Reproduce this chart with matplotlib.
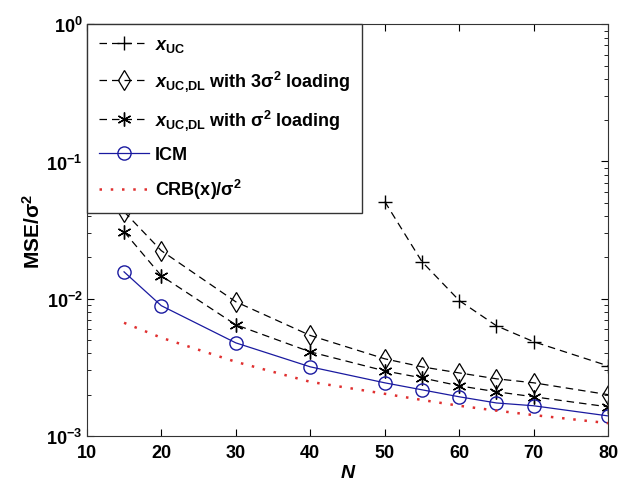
import numpy as np
import matplotlib
matplotlib.use('Agg')
import matplotlib.pyplot as plt

plt.rcParams['font.family'] = ['Liberation Sans', 'DejaVu Sans']
plt.rcParams['font.weight'] = 'bold'
plt.rcParams['mathtext.fontset'] = 'custom'
plt.rcParams['mathtext.rm'] = 'Liberation Sans:bold'
plt.rcParams['mathtext.it'] = 'Liberation Sans:italic:bold'
plt.rcParams['mathtext.bf'] = 'Liberation Sans:bold'
plt.rcParams['mathtext.sf'] = 'Liberation Sans:bold'

# data
N = [15, 20, 30, 40, 50, 55, 60, 65, 70, 80]
N_uc = [50, 55, 60, 65, 70, 80]
mse_uc = [0.051, 0.0186, 0.0097, 0.00635, 0.00486, 0.00324]
mse_dl3 = [0.0431, 0.0224, 0.0095, 0.0054, 0.00365, 0.00319, 0.00288, 0.00261, 0.00244, 0.0020]
mse_dl1 = [0.0308, 0.0147, 0.00646, 0.0041, 0.00298, 0.00265, 0.00232, 0.0021, 0.00193, 0.00163]
mse_icm = [0.0157, 0.0089, 0.00477, 0.00319, 0.00244, 0.00217, 0.00193, 0.00174, 0.00166, 0.0014]
crb = [0.00668, 0.0052, 0.00347, 0.00248, 0.00203, 0.00183, 0.00166, 0.00153, 0.00142, 0.00124]

fig = plt.figure(figsize=(6.2, 4.85), dpi=100)
ax = fig.add_axes([0.140, 0.099, 0.841, 0.849])

dash = (0, (6, 4))
ax.semilogy(N_uc, mse_uc, color='k', ls=dash, lw=0.9, marker='+', ms=10, mew=1,
            label=r'$x_{\mathbf{UC}}$')
ax.semilogy(N, mse_dl3, color='k', ls=dash, lw=0.9, marker='d', ms=10, mew=0.9, mfc='none',
            label=r'$x_{\mathbf{UC{,}DL}}$ with 3$\mathrm{\sigma}^2$ loading')
ax.semilogy(N, mse_dl1, color='k', ls=dash, lw=0.9, marker=(6, 2, 0), ms=10, mew=1,
            label=r'$x_{\mathbf{UC{,}DL}}$ with $\mathrm{\sigma}^2$ loading')
ax.semilogy(N, mse_icm, color='#1a1aa0', ls='-', lw=0.9, marker='o', ms=9.5, mew=1, mfc='none',
            label='ICM')
ax.semilogy(N, crb, color='#e03030', ls=(0, (1, 3.5)), lw=1.8,
            label=r'CRB(x)/$\mathrm{\sigma}^2$')

ax.set_xlim(10, 80)
ax.set_ylim(1e-3, 1)
ax.set_xticks([10, 20, 30, 40, 50, 60, 70, 80])
ax.tick_params(which='both', direction='in', top=True, right=True, labelsize=13)
ax.tick_params(which='major', length=5)
ax.tick_params(which='minor', length=3)
ax.tick_params(axis='x', pad=6)
ax.tick_params(axis='y', pad=3)
for s in ax.spines.values():
    s.set_color('#333333')

ax.set_xlabel('N', fontsize=14, fontstyle='italic', fontweight='bold', labelpad=2)
ax.set_ylabel(r'MSE/$\mathrm{\sigma}^2$', fontsize=15, fontweight='bold', labelpad=2)

leg = ax.legend(loc='upper left', bbox_to_anchor=(0, 1), borderaxespad=0, fontsize=13,
                numpoints=1, handlelength=2.8, labelspacing=0.78, fancybox=False,
                framealpha=1, edgecolor='#333333', borderpad=0.65, handletextpad=0.3)
leg.get_frame().set_linewidth(1.0)

plt.savefig('out.png', dpi=100)
